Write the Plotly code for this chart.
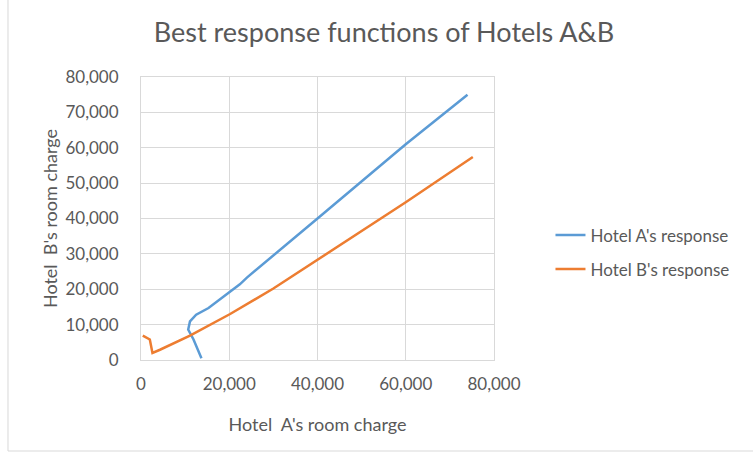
import plotly.graph_objects as go

# Hotel A's response (x = A's charge, y = B's charge)
a_x = [13700, 12800, 11900, 10700, 11100, 12500, 15300, 22400, 24000, 40000, 60000, 74000]
a_y = [500, 3000, 5800, 8600, 10900, 12800, 14700, 21400, 23300, 40000, 61000, 75000]

# Hotel B's response
b_x = [400, 2000, 2600, 4300, 11100, 20200, 30000, 40500, 60000, 75200]
b_y = [6900, 5800, 2000, 2900, 6900, 13000, 20200, 28800, 44600, 57400]

x_ticks = [0, 20000, 40000, 60000, 80000]
y_ticks = [0, 10000, 20000, 30000, 40000, 50000, 60000, 70000, 80000]

FONT = "Lato"
GREY = "#595959"
GRID = "#d9d9d9"

fig = go.Figure()
fig.add_trace(go.Scatter(x=a_x, y=a_y, mode="lines", name="Hotel A's response",
                         legendgroup="a",
                         line=dict(color="#5B9BD5", width=2.5)))
fig.add_trace(go.Scatter(x=b_x, y=b_y, mode="lines", name="Hotel B's response",
                         legendgroup="b",
                         line=dict(color="#ED7D31", width=2.5)))

fig.update_layout(
    width=753, height=454,
    margin=dict(l=141, r=259, t=77, b=94),
    paper_bgcolor="white", plot_bgcolor="white",
    font=dict(family=FONT, color=GREY, size=16),
    title=dict(text="Best response functions of Hotels A&B", x=0.51, xanchor="center",
               y=0.928, yanchor="middle",
               font=dict(family=FONT, size=27, color=GREY)),
    legend=dict(x=1.16, xanchor="left", y=0.38, yanchor="middle",
                font=dict(family=FONT, size=17, color=GREY),
                traceorder="grouped", tracegroupgap=9,
                bgcolor="rgba(0,0,0,0)"),
    xaxis=dict(range=[0, 80000], tickvals=x_ticks, tickformat=",d",
               showgrid=True, gridcolor=GRID, gridwidth=1,
               showline=True, linecolor=GRID, linewidth=1, mirror=True,
               zeroline=False, ticks="", ticklabelstandoff=9,
               tickfont=dict(family=FONT, size=17, color=GREY),
               title=dict(text="Hotel  A's room charge", standoff=24,
                          font=dict(family=FONT, size=18, color=GREY))),
    yaxis=dict(range=[0, 80000], tickvals=y_ticks, tickformat=",d",
               showgrid=True, gridcolor=GRID, gridwidth=1,
               showline=True, linecolor=GRID, linewidth=1, mirror=True,
               zeroline=False, ticks="", ticklabelstandoff=18,
               tickfont=dict(family=FONT, size=17, color=GREY),
               title=dict(text="Hotel  B's room charge", standoff=3,
                          font=dict(family=FONT, size=18, color=GREY))),
    shapes=[dict(type="rect", xref="paper", yref="paper",
                 x0=-0.3768, x1=1.8, y0=-0.3216, y1=1.3,
                 line=dict(color=GRID, width=1), layer="below")],
)

fig.write_html("out.html")
